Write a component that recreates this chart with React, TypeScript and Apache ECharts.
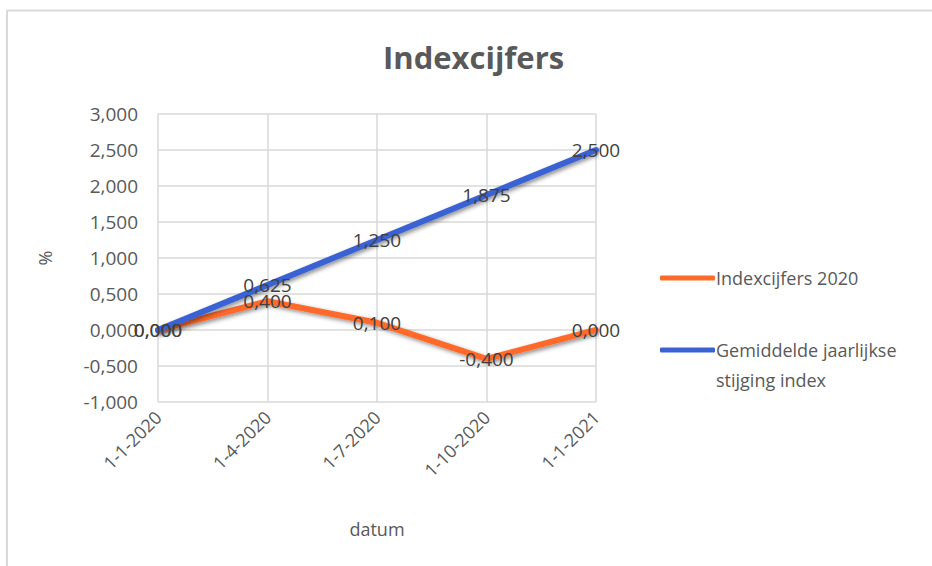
import React, { useEffect, useRef } from "react";
import * as echarts from "echarts";

const categories = ["1-1-2020", "1-4-2020", "1-7-2020", "1-10-2020", "1-1-2021"];
const indexcijfers2020 = [0, 0.4, 0.1, -0.4, 0];
const gemiddeldeStijging = [0, 0.625, 1.25, 1.875, 2.5];
const seriesNames = ["Indexcijfers 2020", "Gemiddelde jaarlijkse stijging index"];
const yMin = -1;
const yMax = 3;
const yInterval = 0.5;

const FONT = "'Open Sans', 'DejaVu Sans', sans-serif";
const fmt = (v: number) => v.toFixed(3).replace(".", ",");

export default function App() {
  const ref = useRef<HTMLDivElement>(null);
  useEffect(() => {
    if (!ref.current) return;
    const chart = echarts.init(ref.current, null, { renderer: "svg" });
    const lineSeries = (name: string, data: number[], color: string) => ({
      name,
      type: "line",
      data,
      symbol: "circle",
      symbolSize: 2,
      showSymbol: true,
      itemStyle: { color },
      lineStyle: {
        color,
        width: 6,
        cap: "round",
        join: "round",
        shadowBlur: 4,
        shadowColor: "rgba(0,0,0,0.45)",
        shadowOffsetX: 2,
        shadowOffsetY: 2,
      },
      label: {
        show: true,
        position: "inside",
        formatter: (p: any) => fmt(p.value),
        color: "#404040",
        fontSize: 19,
        fontFamily: FONT,
      },
      emphasis: { disabled: true },
    });
    chart.setOption({
      animation: false,
      backgroundColor: "#ffffff",
      title: {
        text: "Indexcijfers",
        left: 378,
        top: 36,
        textStyle: { fontSize: 31, fontWeight: "bold", color: "#595959", fontFamily: FONT },
      },
      grid: { left: 158, right: 336, top: 114, bottom: 164 },
      legend: {
        orient: "vertical",
        left: 655,
        top: 258,
        itemWidth: 55,
        itemHeight: 5,
        itemGap: 12,
        icon: "roundRect",
        data: seriesNames,
        formatter: (name: string) =>
          name === seriesNames[1] ? "\nGemiddelde jaarlijkse\nstijging index" : name,
        textStyle: { fontSize: 18, color: "#595959", fontFamily: FONT, lineHeight: 30, padding: [0, 0, 0, -4] },
      },
      xAxis: {
        type: "category",
        data: categories,
        boundaryGap: false,
        name: "datum",
        nameLocation: "middle",
        nameGap: 118,
        nameTextStyle: { fontSize: 18, color: "#595959", fontFamily: FONT },
        axisLine: { show: false },
        axisTick: { show: false },
        axisLabel: { rotate: 45, margin: 12, fontSize: 18, color: "#595959", fontFamily: FONT },
        splitLine: { show: true, lineStyle: { color: "#d9d9d9", width: 1.5 } },
      },
      yAxis: {
        type: "value",
        min: yMin,
        max: yMax,
        interval: yInterval,
        name: "%",
        nameLocation: "middle",
        nameRotate: 90,
        nameGap: 104,
        nameTextStyle: { fontSize: 18, color: "#595959", fontFamily: FONT },
        axisLine: { show: false },
        axisTick: { show: false },
        axisLabel: { margin: 20, fontSize: 19, color: "#595959", fontFamily: FONT, formatter: fmt },
        splitLine: { show: true, lineStyle: { color: "#d9d9d9", width: 1.5 } },
      },
      graphic: [
        { type: "line", shape: { x1: 7, y1: 10.5, x2: 932, y2: 10.5 }, style: { stroke: "#d9d9d9", lineWidth: 2 } },
        { type: "line", shape: { x1: 7, y1: 10, x2: 7, y2: 566 }, style: { stroke: "#d9d9d9", lineWidth: 2 } },
      ],
      series: [
        lineSeries(seriesNames[0], indexcijfers2020, "#FF6A2B"),
        lineSeries(seriesNames[1], gemiddeldeStijging, "#3A62D3"),
      ],
    });
    return () => chart.dispose();
  }, []);
  return (
    <div
      ref={ref}
      style={{ position: "fixed", left: 0, top: 0, width: 932, height: 566, background: "#fff" }}
    />
  );
}
